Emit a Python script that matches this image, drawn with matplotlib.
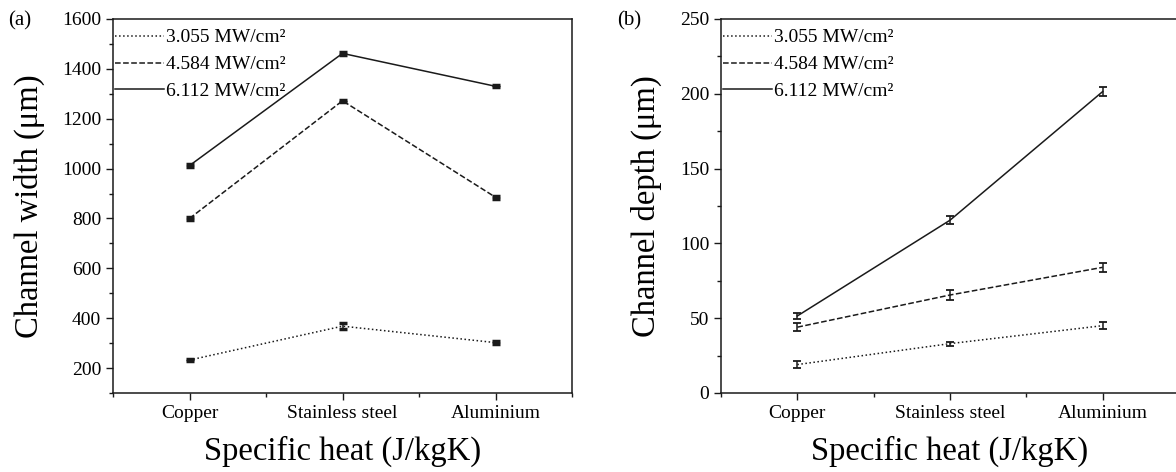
import numpy as np
import matplotlib
matplotlib.use('Agg')
import matplotlib.pyplot as plt
from matplotlib.lines import Line2D
from matplotlib.ticker import FixedLocator, MultipleLocator

plt.rcParams['font.family'] = ['Liberation Serif', 'DejaVu Serif']

#materials and laser intensities
materials = ['Copper', 'Stainless steel', 'Aluminium']
intensities = ['3.055 MW/cm²', '4.584 MW/cm²', '6.112 MW/cm²']
styles = [':', '--', '-']

#channel width (um) for each intensity
width_3055 = [232, 368, 302]
width_4584 = [800, 1272, 885]
width_6112 = [1012, 1462, 1330]
width_err_3055 = [5, 12, 5]
width_err_4584 = [5, 5, 5]
width_err_6112 = [5, 5, 4]

#channel depth (um) for each intensity
depth_3055 = [19, 33, 45]
depth_4584 = [44, 65.5, 84]
depth_6112 = [51.5, 115.5, 201.5]
depth_err_3055 = [2.2, 1.3, 2.2]
depth_err_4584 = [2.8, 3.3, 2.8]
depth_err_6112 = [2.2, 2.5, 3]

widths = [width_3055, width_4584, width_6112]
width_errs = [width_err_3055, width_err_4584, width_err_6112]
depths = [depth_3055, depth_4584, depth_6112]
depth_errs = [depth_err_3055, depth_err_4584, depth_err_6112]

fig = plt.figure(figsize=(11.76, 4.72), dpi=100)
ax1 = fig.add_axes([0.0961, 0.1674, 0.3903, 0.7924])
ax2 = fig.add_axes([0.6131, 0.1674, 0.3895, 0.7924])

x = np.arange(len(materials))
col = '#1a1a1a'

def draw_panel(ax, data, errs, capsize, capthick):
    handles = []
    for vals, err, ls, lab in zip(data, errs, styles, intensities):
        ax.errorbar(x, vals, yerr=err, color=col, ls=ls, lw=1.1,
                    capsize=capsize, capthick=capthick, elinewidth=1.1)
        handles.append(Line2D([], [], color=col, ls=ls, lw=1.1, label=lab))
    ax.set_xlim(-0.5, 2.5)
    ax.set_xticks(x)
    ax.set_xticklabels(materials, fontsize=14)
    ax.xaxis.set_minor_locator(FixedLocator([-0.5, 0.5, 1.5, 2.5]))
    ax.tick_params(axis='both', which='major', length=5, width=1, labelsize=14, color=col)
    ax.tick_params(axis='both', which='minor', length=3, width=1, color=col)
    ax.tick_params(axis='x', pad=4)
    for s in ax.spines.values():
        s.set_linewidth(1.1)
        s.set_color(col)
    ax.set_xlabel('Specific heat (J/kgK)', fontsize=23.5, labelpad=9.5)
    ax.legend(handles=handles, loc='upper left', bbox_to_anchor=(0.0, 0.979),
              frameon=False, fontsize=14, handlelength=2.5, handletextpad=0.15,
              labelspacing=0.48, borderaxespad=0, borderpad=0.1)

#(a) channel width
draw_panel(ax1, widths, width_errs, 2.7, 2.5)
ax1.set_ylim(100, 1600)
ax1.yaxis.set_major_locator(MultipleLocator(200))
ax1.yaxis.set_minor_locator(MultipleLocator(100))
ax1.set_ylabel('Channel width (μm)', fontsize=23.5, labelpad=12)
fig.text(0.007, 0.955, '(a)', fontsize=15, va='center')

#(b) channel depth
draw_panel(ax2, depths, depth_errs, 2.7, 1.3)
ax2.set_ylim(0, 250)
ax2.yaxis.set_major_locator(MultipleLocator(50))
ax2.yaxis.set_minor_locator(MultipleLocator(25))
ax2.set_ylabel('Channel depth (μm)', fontsize=23.5, labelpad=13)
fig.text(0.525, 0.955, '(b)', fontsize=15, va='center')

fig.savefig('out.png', dpi=100)
